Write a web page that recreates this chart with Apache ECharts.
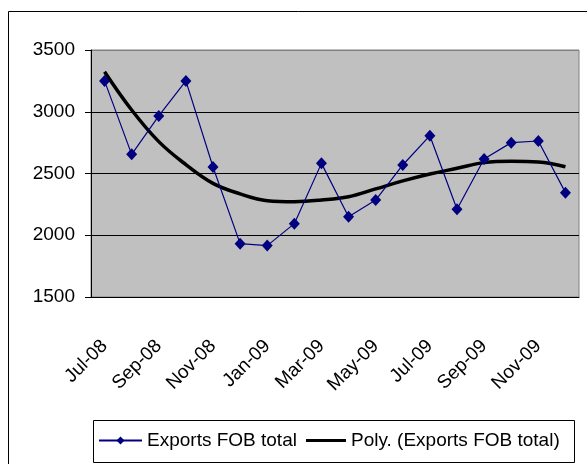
<!DOCTYPE html>
<html>
<head>
<meta charset="utf-8">
<script src="https://cdn.jsdelivr.net/npm/echarts@6/dist/echarts.min.js"></script>
<style>
    html, body { margin: 0; padding: 0; background: #fff; }
    #main { width: 587px; height: 464px; }
</style>
</head>
<body>
<div id="main"></div>
<script>
// months on the x axis
var months = ['Jul-08', 'Aug-08', 'Sep-08', 'Oct-08', 'Nov-08', 'Dec-08',
    'Jan-09', 'Feb-09', 'Mar-09', 'Apr-09', 'May-09', 'Jun-09',
    'Jul-09', 'Aug-09', 'Sep-09', 'Oct-09', 'Nov-09', 'Dec-09'];

// Exports FOB total
var exportsFob = [3250, 2655, 2966, 3250, 2553, 1932, 1916, 2094, 2582,
    2150, 2285, 2569, 2806, 2210, 2617, 2750, 2763, 2345];

// Poly. trend line at each month
var polyTrend = [3324, 3014, 2758, 2572, 2420, 2335, 2280, 2272, 2285,
    2312, 2375, 2440, 2496, 2542, 2588, 2599, 2593, 2555];

var yTicks = {min: 1500, max: 3500, step: 500};

var myChart = echarts.init(document.getElementById('main'));

var font = 'Liberation Sans, Arial, sans-serif';

option = {
    backgroundColor: '#fff',
    animation: false,
    textStyle: {
        fontFamily: font
    },
    grid: {
        left: 91,
        top: 50,
        right: 8,
        bottom: 167,
        show: true,
        backgroundColor: '#c0c0c0',
        borderColor: '#808080',
        borderWidth: 1
    },
    // two legends so each key can have its own icon size, boxed by a graphic rect
    legend: [{
        left: 98,
        top: 431,
        padding: 0,
        itemWidth: 43,
        itemHeight: 10,
        textStyle: {
            fontFamily: font,
            fontSize: 19,
            color: '#000'
        },
        data: ['Exports FOB total']
    }, {
        left: 306,
        top: 431,
        padding: 0,
        itemWidth: 40,
        itemHeight: 3,
        icon: 'rect',
        textStyle: {
            fontFamily: font,
            fontSize: 19,
            color: '#000'
        },
        data: ['Poly. (Exports FOB total)']
    }],
    graphic: [{
        // outer chart frame
        type: 'rect',
        shape: {x: 8.5, y: 11.5, width: 620, height: 500},
        style: {fill: null, stroke: '#000', lineWidth: 1},
        silent: true,
        z: -1
    }, {
        // legend box
        type: 'rect',
        shape: {x: 93.5, y: 420.5, width: 481, height: 42},
        style: {fill: '#fff', stroke: '#000', lineWidth: 1},
        silent: true,
        z: 0
    }],
    xAxis: {
        type: 'category',
        boundaryGap: true,
        data: months,
        axisLine: {
            lineStyle: {color: '#000', width: 1}
        },
        axisTick: {
            interval: 1,
            length: 6,
            lineStyle: {color: '#000'}
        },
        axisLabel: {
            interval: 1,
            rotate: 45,
            margin: 46,
            fontSize: 19,
            color: '#000',
            fontFamily: font
        },
        splitLine: {show: false}
    },
    yAxis: {
        type: 'value',
        min: yTicks.min,
        max: yTicks.max,
        interval: yTicks.step,
        axisLine: {
            show: true,
            lineStyle: {color: '#000', width: 1}
        },
        axisTick: {
            show: true,
            length: 6,
            lineStyle: {color: '#000'}
        },
        axisLabel: {
            margin: 16,
            fontSize: 19,
            color: '#000',
            fontFamily: font,
            formatter: function (v) { return String(v); }
        },
        splitLine: {
            lineStyle: {
                color: ['#000', '#000', '#000', '#000', '#808080'],
                width: 1
            }
        }
    },
    series: [{
        name: 'Exports FOB total',
        type: 'line',
        data: exportsFob,
        symbol: 'diamond',
        symbolSize: [11, 12],
        color: '#000080',
        lineStyle: {
            color: '#000080',
            width: 1.2
        },
        itemStyle: {
            color: '#000080'
        },
        z: 3
    }, {
        name: 'Poly. (Exports FOB total)',
        type: 'line',
        data: polyTrend,
        smooth: 0.4,
        symbol: 'none',
        color: '#000',
        lineStyle: {
            color: '#000',
            width: 3.5
        },
        z: 2
    }]
};

myChart.clear();
myChart.setOption(option);
</script>
</body>
</html>
